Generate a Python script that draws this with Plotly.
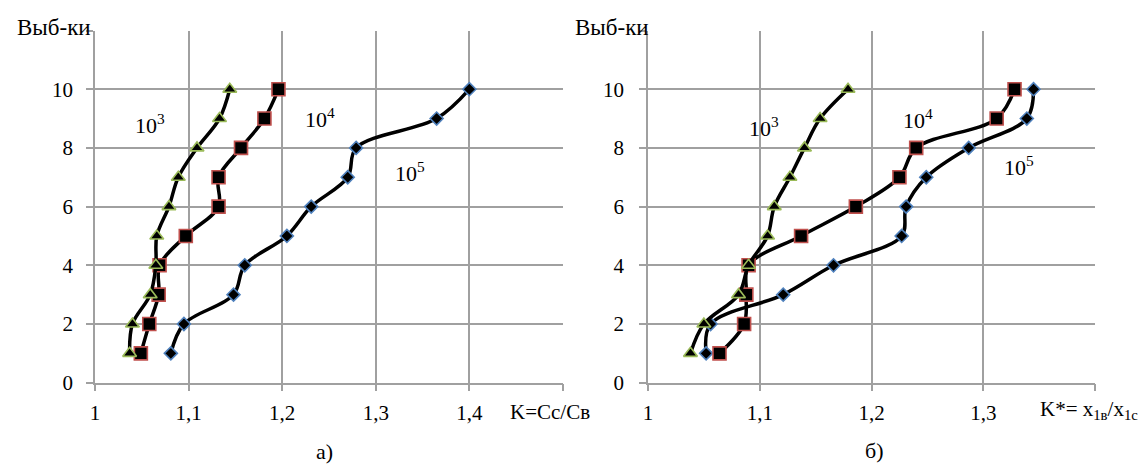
import plotly.graph_objects as go

samples = [1, 2, 3, 4, 5, 6, 7, 8, 9, 10]

# Chart a): K = Cc/Cв
a_1e3 = [1.037, 1.040, 1.059, 1.065, 1.066, 1.079, 1.089, 1.109, 1.133, 1.144]
a_1e4 = [1.049, 1.058, 1.068, 1.069, 1.097, 1.132, 1.132, 1.156, 1.181, 1.196]
a_1e5 = [1.081, 1.095, 1.148, 1.160, 1.205, 1.231, 1.270, 1.279, 1.365, 1.400]

# Chart б): K* = x1в/x1c
b_1e3 = [1.038, 1.050, 1.081, 1.090, 1.107, 1.113, 1.127, 1.140, 1.154, 1.179]
b_1e4 = [1.064, 1.086, 1.088, 1.090, 1.137, 1.186, 1.225, 1.240, 1.312, 1.328]
b_1e5 = [1.052, 1.056, 1.121, 1.166, 1.227, 1.231, 1.249, 1.287, 1.339, 1.345]

a_xticks = [1, 1.1, 1.2, 1.3, 1.4, 1.5]
a_xtext = ["1", "1,1", "1,2", "1,3", "1,4", ""]
b_xticks = [1, 1.1, 1.2, 1.3, 1.4]
b_xtext = ["1", "1,1", "1,2", "1,3", ""]
yticks = [0, 2, 4, 6, 8, 10, 12]
ytext = ["0", "2", "4", "6", "8", "10", ""]

FONT = "Times New Roman, Liberation Serif, DejaVu Serif, serif"
GRID = "#A0A0A0"

fig = go.Figure()

def add_series(x, y, xa, ya, symbol, size, edge):
    fig.add_trace(go.Scatter(
        x=x, y=y, xaxis=xa, yaxis=ya, mode="lines+markers",
        line=dict(color="black", width=3.5, shape="spline", smoothing=1),
        marker=dict(symbol=symbol, size=size, color="black",
                    line=dict(color=edge, width=1.6)),
        showlegend=False, cliponaxis=False))

BLUE, RED, GREEN = "#4F81BD", "#C0504D", "#9BBB59"
add_series(a_1e5, samples, "x", "y", "diamond", 10, BLUE)
add_series(a_1e4, samples, "x", "y", "square", 13, RED)
add_series(a_1e3, samples, "x", "y", "triangle-up", 12, GREEN)
add_series(b_1e5, samples, "x2", "y2", "diamond", 10, BLUE)
add_series(b_1e4, samples, "x2", "y2", "square", 13, RED)
add_series(b_1e3, samples, "x2", "y2", "triangle-up", 12, GREEN)

axis_common = dict(showgrid=True, gridcolor=GRID, gridwidth=1.5, zeroline=False,
                   showline=True, linecolor=GRID, linewidth=1.5, automargin=False,
                   ticks="outside", ticklen=7, tickcolor=GRID, tickwidth=1.5,
                   tickfont=dict(family=FONT, size=21, color="black"))

fig.update_layout(
    template="none",
    width=1147, height=464,
    margin=dict(l=0, r=0, t=0, b=0, autoexpand=False),
    paper_bgcolor="white", plot_bgcolor="white",
    font=dict(family=FONT, size=21, color="black"),
    xaxis=dict(domain=[95/1147, 563/1147], range=[1, 1.5], ticklabelstandoff=3,
               tickvals=a_xticks, ticktext=a_xtext, anchor="y", **axis_common),
    yaxis=dict(domain=[81.3/464, 433.5/464], range=[0, 12], ticklabelstandoff=9,
               tickvals=yticks, ticktext=ytext, anchor="x", **axis_common),
    xaxis2=dict(domain=[648/1147, 1095/1147], range=[1, 1.4], ticklabelstandoff=3,
                tickvals=b_xticks, ticktext=b_xtext, anchor="y2", **axis_common),
    yaxis2=dict(domain=[81.3/464, 433.5/464], range=[0, 12], ticklabelstandoff=11,
                tickvals=yticks, ticktext=ytext, anchor="x2", **axis_common),
)

ann = []
def txt(text, x, y, xref, yref, xanchor="center", size=22):
    ann.append(dict(text=text, x=x, y=y, xref=xref, yref=yref, showarrow=False,
                    xanchor=xanchor, yanchor="middle",
                    font=dict(family=FONT, size=size, color="black")))

# series labels
txt("10<sup>3</sup>", 1.059, 8.81, "x", "y")
txt("10<sup>4</sup>", 1.240, 9.02, "x", "y")
txt("10<sup>5</sup>", 1.337, 7.18, "x", "y")
txt("10<sup>3</sup>", 1.104, 8.71, "x2", "y2")
txt("10<sup>4</sup>", 1.242, 8.98, "x2", "y2")
txt("10<sup>5</sup>", 1.332, 7.38, "x2", "y2")

# axis titles
txt("Выб-ки", 93/1147, 1 - 27/464, "paper", "paper", xanchor="right", size=23)
txt("Выб-ки", 651/1147, 1 - 28/464, "paper", "paper", xanchor="right", size=23)
txt("K=Cc/Cв", 508/1147, 1 - 412/464, "paper", "paper", xanchor="left", size=21)
txt("K*= x<sub>1в</sub>/x<sub>1c</sub>", 1038/1147, 1 - 410/464, "paper", "paper", xanchor="left", size=21)

# panel captions
txt("а)", 324/1147, 1 - 451/464, "paper", "paper", size=22)
txt("б)", 874/1147, 1 - 450/464, "paper", "paper", size=22)

fig.update_layout(annotations=ann)
fig.write_html("out.html")
